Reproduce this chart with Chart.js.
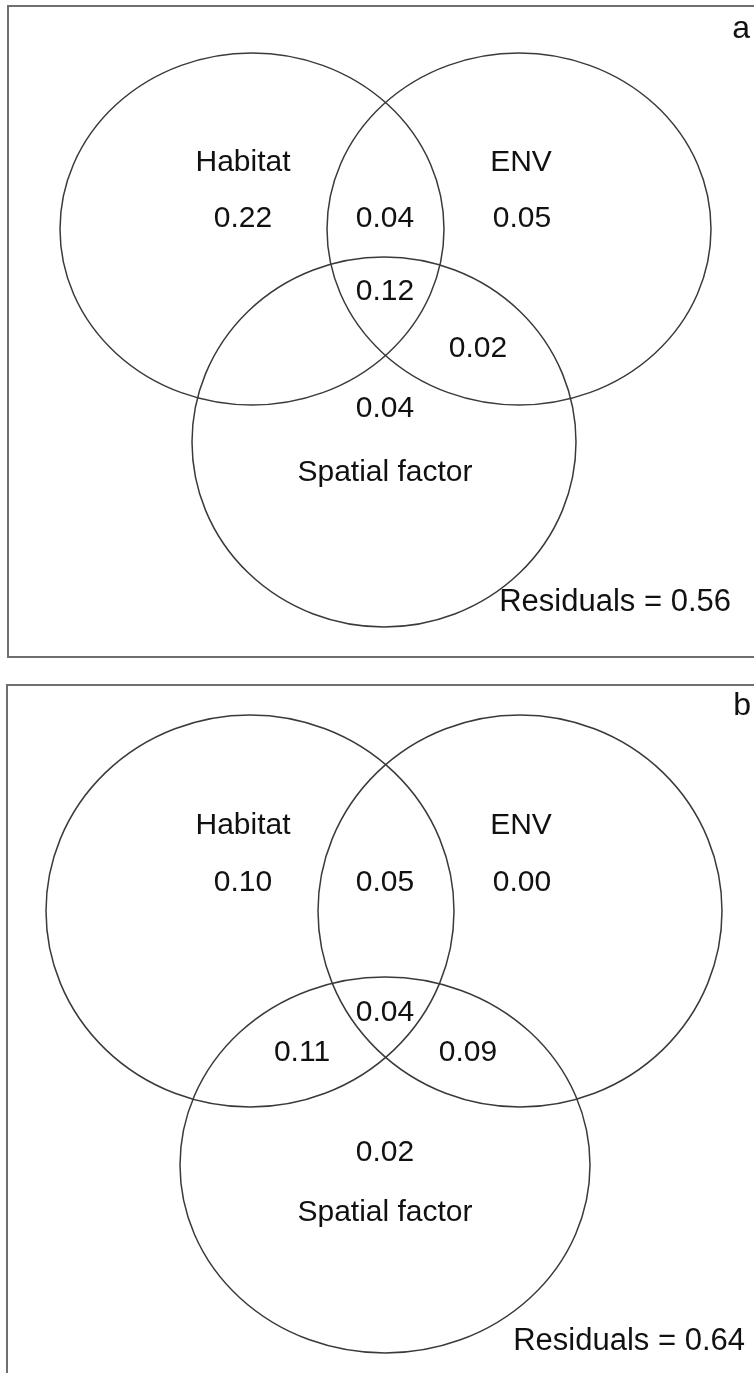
<!DOCTYPE html>
<html>
<head>
<meta charset="utf-8">
<script src="https://cdn.jsdelivr.net/npm/chart.js@4.4.0/dist/chart.umd.min.js"></script>
<style>
  html, body { margin: 0; padding: 0; background: #ffffff; }
  #page { position: relative; width: 754px; height: 1373px; overflow: hidden; background: #ffffff; }
  #page canvas { position: absolute; left: 0; }
</style>
</head>
<body>
<div id="page">
  <canvas id="panelA" width="754" height="672" style="top:0px"></canvas>
  <canvas id="panelB" width="754" height="701" style="top:672px"></canvas>
</div>
<script>
// Variation partitioning: the three explanatory sets and their shared fractions
const setNames = ['Habitat', 'ENV', 'Spatial factor'];
const regionKeys = ['H', 'E', 'S', 'HE', 'HS', 'ES', 'HES'];
const fractionsA = [0.22, 0.05, 0.04, 0.04, null, 0.02, 0.12];
const fractionsB = [0.10, 0.00, 0.02, 0.05, 0.11, 0.09, 0.04];
const residuals = [0.56, 0.64];
const panelTags = ['a', 'b'];

// Page geometry for each panel (same units as the page, so y runs top-down)
const layouts = [
  {
    yMin: 0, yMax: 672,
    frame: [8, 6, 790, 657],
    circles: { H: [252, 229, 192, 176], E: [519, 229, 192, 176], S: [384, 442, 192, 185] },
    setLabelPos: [[243, 163], [521, 163], [385, 473]],
    regionPos: { H: [243, 219], E: [522, 219], S: [385, 409], HE: [385, 219], HS: [290, 349], ES: [478, 349], HES: [385, 292] },
    residualPos: [731, 602],
    tagPos: [750, 29]
  },
  {
    yMin: 672, yMax: 1373,
    frame: [7, 685, 790, 1420],
    circles: { H: [250, 911, 204, 196], E: [520, 911, 202, 196], S: [385, 1165, 205, 188] },
    setLabelPos: [[243, 826], [521, 826], [385, 1213]],
    regionPos: { H: [243, 883], E: [522, 883], S: [385, 1153], HE: [385, 883], HS: [302, 1053], ES: [468, 1053], HES: [385, 1013] },
    residualPos: [745, 1341],
    tagPos: [751, 706]
  }
];

const FONT = '30px "Liberation Sans", Arial, Helvetica, sans-serif';
const TEXT_STRETCH = 1.0;
const TEXT_COLOR = '#111111';

function stretchedText(ctx, text, x, y, align) {
  ctx.save();
  ctx.translate(x, y);
  ctx.scale(TEXT_STRETCH, 1);
  ctx.textAlign = align || 'center';
  ctx.textBaseline = 'middle';
  ctx.fillText(text, 0, 0);
  ctx.restore();
}

const vennPlugin = {
  id: 'vennPanel',
  afterDatasetsDraw(chart) {
    const L = chart.options.plugins.vennPanel;
    const ctx = chart.ctx;
    const xs = chart.scales.x, ys = chart.scales.y;
    const px = v => xs.getPixelForValue(v);
    const py = v => ys.getPixelForValue(v);

    ctx.save();
    // panel frame
    ctx.strokeStyle = '#6f6f6f';
    ctx.lineWidth = 2;
    const [fx0, fy0, fx1, fy1] = L.frame;
    ctx.strokeRect(px(fx0), py(fy0), px(fx1) - px(fx0), py(fy1) - py(fy0));

    // set outlines
    ctx.strokeStyle = '#3a3a3a';
    ctx.lineWidth = 1.5;
    ['H', 'E', 'S'].forEach(k => {
      const [cx, cy, rx, ry] = L.circles[k];
      ctx.beginPath();
      ctx.ellipse(px(cx), py(cy), Math.abs(px(cx + rx) - px(cx)), Math.abs(py(cy + ry) - py(cy)), 0, 0, Math.PI * 2);
      ctx.stroke();
    });

    ctx.fillStyle = TEXT_COLOR;
    ctx.font = FONT;

    // fraction values, placed at the dataset's points
    const meta = chart.getDatasetMeta(0);
    const ds = chart.data.datasets[0];
    meta.data.forEach((el, i) => {
      const v = ds.data[i].v;
      stretchedText(ctx, v.toFixed(2), el.x, el.y);
    });

    // set names
    setNames.forEach((name, i) => {
      const [x, y] = L.setLabelPos[i];
      stretchedText(ctx, name, px(x), py(y));
    });

    // residuals
    ctx.font = '31px "Liberation Sans", Arial, Helvetica, sans-serif';
    stretchedText(ctx, 'Residuals = ' + L.residual.toFixed(2), px(L.residualPos[0]), py(L.residualPos[1]), 'right');

    // panel tag
    ctx.font = '32px "Liberation Sans", Arial, Helvetica, sans-serif';
    stretchedText(ctx, L.tag, px(L.tagPos[0]), py(L.tagPos[1]), 'right');
    ctx.restore();
  }
};

function buildPanel(canvasId, idx, fractions) {
  const L = layouts[idx];
  const points = [];
  regionKeys.forEach((k, i) => {
    if (fractions[i] === null || fractions[i] === undefined) return;
    const [x, y] = L.regionPos[k];
    points.push({ x: x, y: y, v: fractions[i] });
  });
  return new Chart(document.getElementById(canvasId), {
    type: 'scatter',
    data: {
      datasets: [{
        label: 'fractions',
        data: points,
        pointRadius: 0,
        pointHoverRadius: 0,
        showLine: false
      }]
    },
    options: {
      responsive: false,
      animation: false,
      events: [],
      layout: { padding: 0 },
      scales: {
        x: { type: 'linear', min: 0, max: 754, display: false },
        y: { type: 'linear', min: L.yMin, max: L.yMax, reverse: true, display: false }
      },
      plugins: {
        legend: { display: false },
        tooltip: { enabled: false },
        vennPanel: Object.assign({}, L, { residual: residuals[idx], tag: panelTags[idx] })
      }
    },
    plugins: [vennPlugin]
  });
}

buildPanel('panelA', 0, fractionsA);
buildPanel('panelB', 1, fractionsB);
</script>
</body>
</html>
